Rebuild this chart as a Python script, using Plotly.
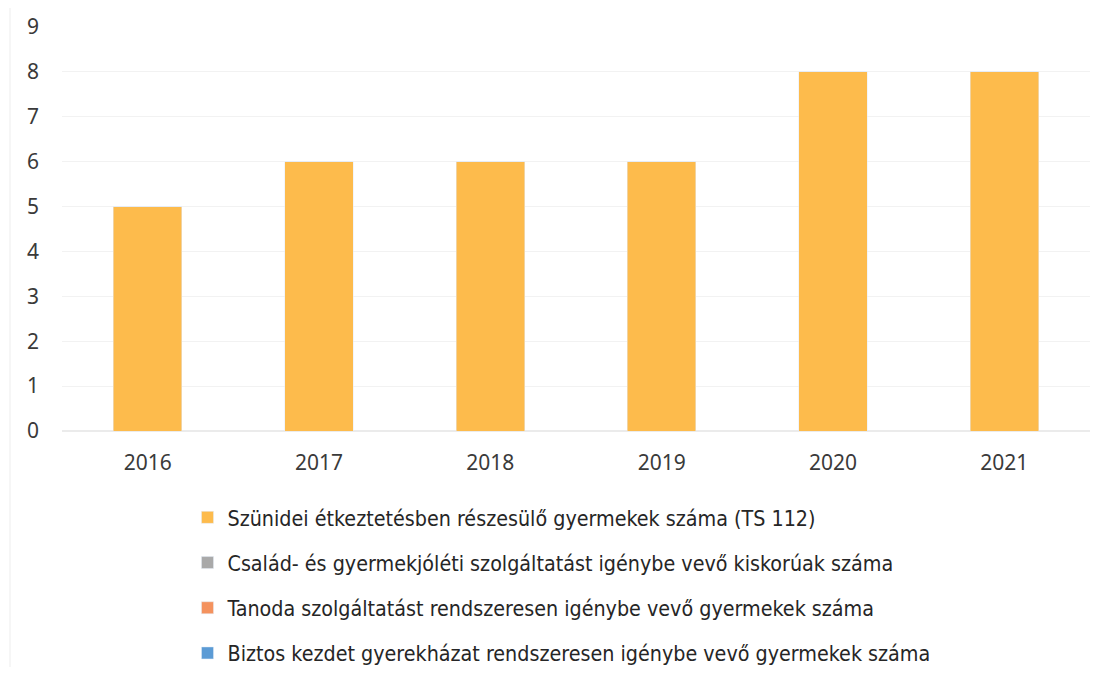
import plotly.graph_objects as go

years = ["2016", "2017", "2018", "2019", "2020", "2021"]
szunidei = [5, 6, 6, 6, 8, 8]
csalad = [0, 0, 0, 0, 0, 0]
tanoda = [0, 0, 0, 0, 0, 0]
biztos = [0, 0, 0, 0, 0, 0]

names = [
    "Szünidei étkeztetésben részesülő gyermekek száma (TS 112)",
    "Család- és gyermekjóléti szolgáltatást igénybe vevő kiskorúak száma",
    "Tanoda szolgáltatást rendszeresen igénybe vevő gyermekek száma",
    "Biztos kezdet gyerekházat rendszeresen igénybe vevő gyermekek száma",
]
colors = ["#FDBB4C", "#A9A9A9", "#F4925E", "#5B9BD5"]
series = [szunidei, csalad, tanoda, biztos]

fig = go.Figure()
for i, (n, c, s) in enumerate(zip(names, colors, series)):
    fig.add_trace(go.Bar(x=years, y=s, name=n, marker_color=c, width=0.4,
                         legendgroup=f"g{i}", hoverinfo="y"))

W, H = 1108, 679
ml, mr, mt, mb = 54, 26, 19, 256
fig.update_layout(
    width=W, height=H,
    margin=dict(l=ml, r=mr, t=mt, b=mb, autoexpand=False),
    barmode="stack",
    plot_bgcolor="white", paper_bgcolor="white",
    font=dict(family="Noto Sans, Open Sans, sans-serif", size=21, color="#3A3A3A"),
    showlegend=True,
    legend=dict(orientation="v", xref="container", yref="container",
                x=0.162, xanchor="left", y=0.2798, yanchor="top",
                tracegroupgap=14.5, traceorder="grouped",
                font=dict(family="DejaVu Sans Condensed, sans-serif",
                          size=21.3, color="#262626"),
                itemwidth=30),
    xaxis=dict(showgrid=False, showline=False, ticks="", ticklabelstandoff=17,
               automargin=False, tickfont=dict(size=21, color="#3A3A3A")),
    yaxis=dict(range=[0, 9], dtick=1, showgrid=True, gridcolor="#F2F2F2", gridwidth=1,
               zeroline=True, zerolinecolor="#EBEBEB", showline=False, ticks="",
               automargin=False, ticklabelstandoff=22,
               tickfont=dict(size=21, color="#3A3A3A")),
)

# faint frame line at left edge of the chart area
plot_w = W - ml - mr
plot_h = H - mt - mb
fig.add_shape(type="line", xref="paper", yref="paper",
              x0=(2 - ml) / plot_w, x1=(2 - ml) / plot_w,
              y0=-(mb - 20) / plot_h, y1=(plot_h + mt) / plot_h,
              line=dict(color="#EDEDED", width=1))

fig.write_html("out.html")
